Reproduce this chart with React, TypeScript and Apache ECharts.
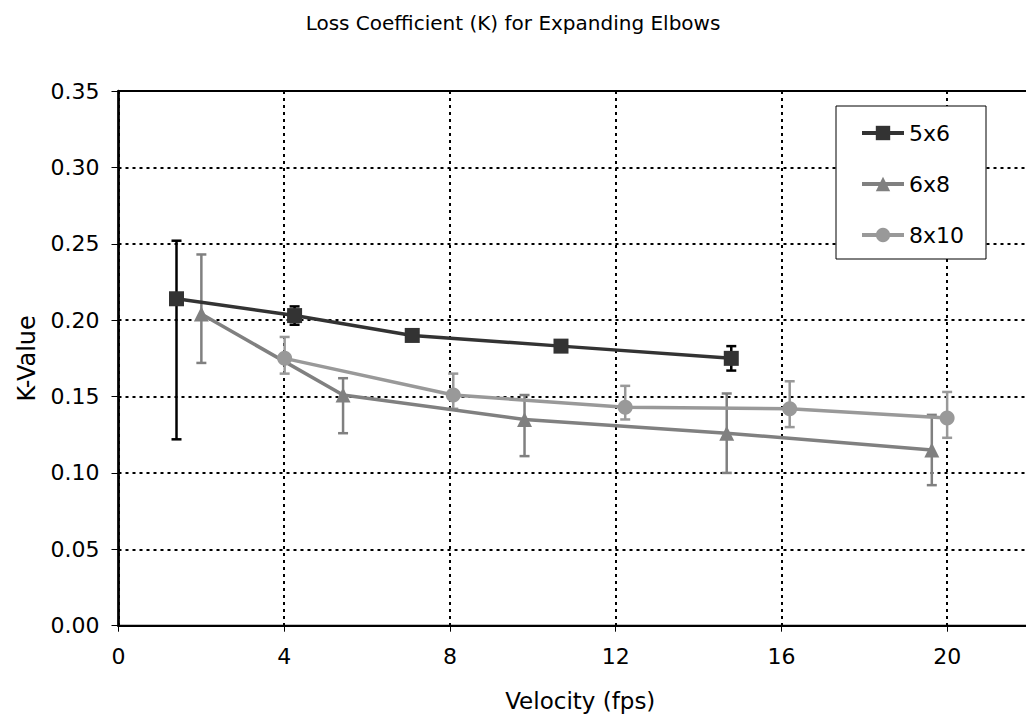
import React, { useEffect, useRef } from "react";
import * as echarts from "echarts";

const seriesNames = ["5x6", "6x8", "8x10"];

const vel56 = [1.4, 4.25, 7.09, 10.68, 14.79];
const k56 = [0.214, 0.203, 0.19, 0.183, 0.175];
const low56 = [0.122, 0.197, 0.187, 0.18, 0.167];
const high56 = [0.252, 0.209, 0.193, 0.186, 0.183];

const vel68 = [2.0, 5.42, 9.8, 14.68, 19.63];
const k68 = [0.204, 0.151, 0.135, 0.126, 0.115];
const low68 = [0.172, 0.126, 0.111, 0.1, 0.092];
const high68 = [0.243, 0.162, 0.151, 0.152, 0.138];

const vel810 = [4.01, 8.08, 12.23, 16.2, 20.0];
const k810 = [0.175, 0.151, 0.143, 0.142, 0.136];
const low810 = [0.165, 0.142, 0.135, 0.13, 0.123];
const high810 = [0.189, 0.165, 0.157, 0.16, 0.153];

const FONT = "DejaVu Sans, Liberation Sans, Arial, sans-serif";

function pairs(xs: number[], ys: number[]) {
  return xs.map((x, i) => [x, ys[i]]);
}
function errData(xs: number[], lo: number[], hi: number[]) {
  return xs.map((x, i) => [x, lo[i], hi[i]]);
}

function errorSeries(name: string, data: number[][], color: string) {
  return {
    type: "custom",
    name: name + "-err",
    data,
    z: 3,
    renderItem: (params: any, api: any) => {
      const x = api.value(0);
      const top = api.coord([x, api.value(2)]);
      const bot = api.coord([x, api.value(1)]);
      const hw = 5;
      const style = { stroke: color, lineWidth: 2.5 };
      return {
        type: "group",
        children: [
          { type: "line", shape: { x1: top[0], y1: top[1], x2: bot[0], y2: bot[1] }, style },
          { type: "line", shape: { x1: top[0] - hw, y1: top[1], x2: top[0] + hw, y2: top[1] }, style },
          { type: "line", shape: { x1: bot[0] - hw, y1: bot[1], x2: bot[0] + hw, y2: bot[1] }, style },
        ],
      };
    },
  };
}

export default function App() {
  const ref = useRef<HTMLDivElement>(null);
  useEffect(() => {
    if (!ref.current) return;
    const chart = echarts.init(ref.current, undefined, { renderer: "svg" });
    const c56 = "#333333";
    const c68 = "#808080";
    const c810 = "#999999";
    chart.setOption({
      animation: false,
      backgroundColor: "#ffffff",
      title: {
        text: "Loss Coefficient (K) for Expanding Elbows",
        left: "center",
        top: 8,
        textStyle: { fontFamily: FONT, fontSize: 20, fontWeight: "normal", color: "#000" },
      },
      legend: {
        data: seriesNames,
        orient: "vertical",
        left: 836,
        top: 106,
        padding: [16, 22, 13, 24],
        itemGap: 29,
        itemWidth: 42,
        itemHeight: 18,
        backgroundColor: "#ffffff",
        borderColor: "#000",
        borderWidth: 1,
        borderRadius: 0,
        lineStyle: { width: 4 },
        textStyle: { fontFamily: FONT, fontSize: 22, color: "#000", padding: [0, 0, 0, 0] },
      },
      grid: {
        left: 118.5,
        top: 91,
        width: 911.5,
        bottom: 97.3,
        outerBoundsMode: "none",
        containLabel: false,
        show: true,
        borderColor: "#000",
        borderWidth: 2,
        backgroundColor: "transparent",
      },
      xAxis: {
        type: "value",
        min: 0,
        max: 22,
        interval: 4,
        name: "Velocity (fps)",
        nameLocation: "middle",
        nameGap: 64,
        nameTextStyle: { fontFamily: FONT, fontSize: 23, color: "#000", padding: [0, 0, 0, 12] },
        axisLine: { show: true, onZero: false, lineStyle: { color: "#000", width: 2 } },
        axisTick: { show: true, length: 6, lineStyle: { color: "#000", width: 1 } },
        axisLabel: {
          margin: 20,
          fontFamily: FONT,
          fontSize: 22,
          color: "#000",
          formatter: (v: number) => (v > 20 ? "" : String(v)),
        },
        splitLine: { show: true, lineStyle: { color: "#000", width: 2, type: [3, 4] } },
      },
      yAxis: {
        type: "value",
        min: 0,
        max: 0.35,
        interval: 0.05,
        name: "K-Value",
        nameLocation: "middle",
        nameGap: 80,
        nameTextStyle: { fontFamily: FONT, fontSize: 24, color: "#000" },
        axisLine: { show: true, lineStyle: { color: "#000", width: 2.5 } },
        axisTick: { show: true, length: 7, lineStyle: { color: "#000", width: 1 } },
        axisLabel: {
          margin: 19,
          fontFamily: FONT,
          fontSize: 22,
          color: "#000",
          formatter: (v: number) => v.toFixed(2),
        },
        splitLine: { show: true, lineStyle: { color: "#000", width: 2, type: [3, 4] } },
      },
      series: [
        errorSeries("5x6", errData(vel56, low56, high56), "#000000"),
        errorSeries("6x8", errData(vel68, low68, high68), c68),
        errorSeries("8x10", errData(vel810, low810, high810), c810),
        {
          type: "line",
          name: "5x6",
          data: pairs(vel56, k56),
          z: 5,
          symbol: "rect",
          symbolSize: 15,
          lineStyle: { color: c56, width: 3.5 },
          itemStyle: { color: c56 },
        },
        {
          type: "line",
          name: "6x8",
          data: pairs(vel68, k68),
          z: 4,
          symbol: "triangle",
          symbolSize: 15,
          lineStyle: { color: c68, width: 3.5 },
          itemStyle: { color: c68 },
        },
        {
          type: "line",
          name: "8x10",
          data: pairs(vel810, k810),
          z: 4,
          symbol: "circle",
          symbolSize: 15,
          lineStyle: { color: c810, width: 3.5 },
          itemStyle: { color: c810 },
        },
      ],
    });
    return () => chart.dispose();
  }, []);
  return (
    <div
      ref={ref}
      style={{ position: "fixed", left: 0, top: 0, width: 1026, height: 723, background: "#fff" }}
    />
  );
}
